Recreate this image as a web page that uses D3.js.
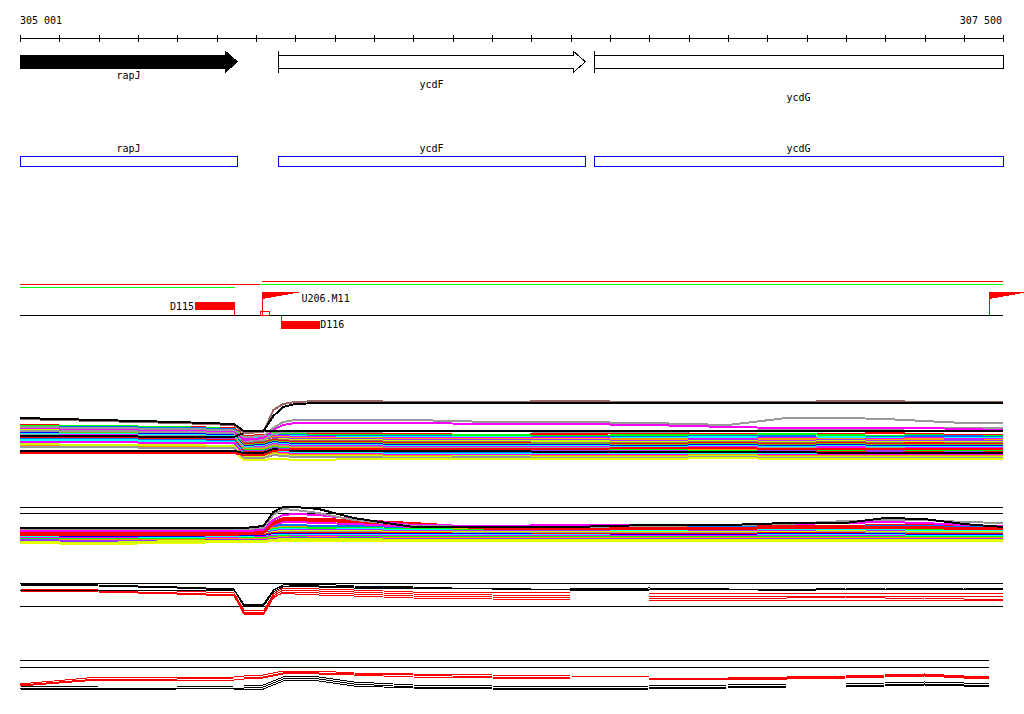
<!DOCTYPE html>
<html><head><meta charset="utf-8">
<script src="https://cdn.jsdelivr.net/npm/d3@7"></script>
<style>
body{margin:0;background:#fff;}
svg{display:block;}
text{font-family:"DejaVu Sans Mono",monospace;font-size:10px;fill:#000;}
</style></head><body>
<svg id="chart" width="1024" height="714"></svg>
<script>
// ---------- data ----------
const axisStart = 305001, axisEnd = 307500, tickStep = 100;
const rulerLabels = ["305 001", "307 500"];

const genes = ["rapJ", "ycdF", "ycdG"];
const geneStart = [305001, 305657, 306460];
const geneEnd = [305553, 306437, 307500];
const geneShape = ["arrow", "arrow", "box"];
const geneFilled = [true, false, false];
const geneStartBar = [false, true, true];

const tuStart = [305001, 305001, 305616, 305611];
const tuEnd = [305611, 305547, 307500, 307500];
const tuColor = ["#ff0000", "#00ff00", "#ff0000", "#00ff00"];

const probeNames = ["D115", "D116"];
const probeStart = [305446, 305665];
const probeEnd = [305548, 305764];
const probeStrand = ["+", "-"];
const flagNames = ["U206.M11", ""];
const flagPos = [305616, 307465];

// sample positions (bp)
const P = [305001,305200,305400,305545,305570,305620,305645,305670,305700,305760,305850,306000,306200,306400,306600,306800,306950,307100,307200,307300,307400,307500];
const P4 = [305001,305200,305400,305545,305570,305620,305645,305670,305700,305760,305850,306000,306200,306400,306600,306800,306950,307100,307200,307300,307400,307465];

// panel 1
const b1 = [40,39,38,37,29,30,33,32,31,31,31,31,30,31,32,31,30,31,32,31,30,30];
const b2 = [39,39,38,36,28,29,32,31,31,30,30,30,30,29,30,30,31,30,29,30,29,29];
const b3 = [38,38,37,36,27,28,31,30,30,29,29,29,28,28,28,29,29,28,28,29,29,28];
const b4 = [38,37,36,35,26,27,30,29,29,28,28,28,28,27,27,28,27,28,27,27,27,27];
const b5 = [37,36,36,34,26,26,29,29,28,28,27,27,27,27,26,26,27,26,26,27,26,26];
const b6 = [36,36,35,34,25,25,28,28,27,27,27,26,26,26,26,25,26,26,25,26,25,25];
const b7 = [35,35,34,33,24,24,27,27,26,26,26,25,25,25,24,25,24,25,24,24,25,24];
const b8 = [35,34,33,32,23,24,26,26,25,25,25,24,24,24,23,24,23,24,23,23,23,23];
const b9 = [34,33,33,32,22,23,26,25,24,24,24,23,23,22,22,23,22,23,22,22,22,22];
const b10 = [33,33,32,31,21,22,25,24,23,23,23,22,22,21,21,22,21,22,21,22,21,21];
const b11 = [33,32,31,30,20,21,24,23,22,22,22,21,21,21,20,21,20,21,20,20,20,20];
const b12 = [32,31,31,30,19,20,23,22,21,21,21,20,20,20,19,20,19,20,19,19,19,19];
const b13 = [31,31,30,29,18,19,22,21,20,20,20,19,19,19,18,19,18,19,18,18,18,18];
const b14 = [30,30,29,28,17,18,21,20,19,19,19,18,18,18,17,18,17,18,17,17,17,17];
const b15 = [30,29,29,28,17,17,20,19,18,18,18,17,17,17,17,16,17,16,17,16,16,16];
const b16 = [29,29,28,27,16,16,19,18,17,17,17,16,16,16,16,15,16,15,16,15,15,15];
const b17 = [28,28,27,26,15,15,18,17,16,16,16,15,15,15,15,14,15,14,15,14,14,14];
const b18 = [28,27,27,26,14,14,17,16,15,15,15,14,14,14,14,13,14,13,14,13,13,13];
const b19 = [27,27,26,25,13,13,16,15,14,14,14,13,13,13,13,13,12,13,12,13,12,13];
const b20 = [26,26,25,24,12,12,15,14,13,13,13,12,12,12,12,12,12,12,12,12,12,12];
const b21 = [25,25,24,23,11,11,14,13,12,12,12,11,11,11,11,11,11,11,11,11,11,11];
const b22 = [23,23,22,22,10,10,13,12,11,11,11,10,10,10,10,10,10,10,10,10,10,10];
const b23 = [20,19,19,18,9,9,12,11,10,10,10,9,9,9,9,10,9,9,9,9,9,9];
const b24 = [21,20,20,19,8,8,11,10,9,9,9,8,9,8,8,9,8,8,8,8,8,8];
const b25 = [18,18,17,17,7,7,10,9,8,8,8,7,8,7,7,8,7,7,7,7,7,7];
const b26 = [14,14,13,13,5,5,6,6,5,5,6,6,6,6,6,7,6,6,6,6,6,6];
const b27 = [14,14,14,14,12,12,16,15,14,14,14,14,14,13,13,13,13,12,12,12,12,12];
const b28 = [12,12,12,12,10,10,14,15,16,16,16,16,16,16,17,17,16,16,16,16,16,16];
const p1Gray2 = [34,34,33,32,24,25,31,33,33,33,33,34,34,33,33,34,35,35,36,37,37,37];
const p1Magenta = [37,36,35,34,25,27,35,40,42,42,42,42,41,41,40,38,37,37,37,37,36,35];
const p1Gray1 = [38,37,36,35,28,29,37,43,45,45,45,45,43,43,42,40,47,47,46,44,42,42];
const p1Black2 = [29,29,28,28,32,34,34,34,34,34,34,34,34,34,34,34,34,34,34,34,34,34];
const p1Brown = [46,44,42,40,32,33,55,61,63,64,64,63,63,64,63,63,63,64,64,63,63,63];
const p1BlackTop = [47,45,43,41,34,34,49,58,61,62,62,62,62,62,62,62,62,62,62,62,62,62];

// panel 2
const c1 = [21,21,20,21,21,22,27,30,30,29,28,24,23,23,23,24,24,24,25,25,24,23];
const c2 = [20,20,20,20,20,21,24,25,25,24,24,23,22,22,22,23,23,23,24,24,23,22];
const c3 = [19,19,19,19,19,20,25,28,28,27,26,23,22,22,21,22,22,23,23,22,21,21];
const c4 = [19,18,18,19,19,19,22,23,23,22,22,21,21,21,21,22,22,22,22,22,21,21];
const c5 = [18,18,17,18,18,19,21,22,22,22,22,21,20,20,20,21,21,21,21,20,20,20];
const c6 = [17,17,17,17,17,18,20,21,21,20,21,20,19,20,19,20,20,20,20,19,19,19];
const c7 = [16,16,16,16,17,17,19,20,20,20,20,19,19,19,18,19,19,19,19,18,18,18];
const c8 = [15,15,15,16,16,16,18,19,19,19,19,18,18,18,18,18,18,19,18,18,18,18];
const c9 = [15,14,14,15,15,16,17,18,18,18,18,17,17,17,17,17,17,18,17,17,17,17];
const c10 = [14,14,14,14,14,15,17,17,17,17,17,17,16,16,16,16,17,17,16,16,16,16];
const c11 = [13,13,13,13,14,14,16,16,16,16,16,16,16,15,15,15,16,16,16,15,15,15];
const c12 = [13,12,12,13,13,13,15,15,15,15,15,15,15,15,14,14,15,15,15,14,14,14];
const c13 = [12,12,11,12,12,13,14,14,14,14,14,14,14,14,14,14,14,14,14,13,13,13];
const c14 = [11,11,11,11,12,12,13,14,13,13,13,13,13,13,13,13,13,13,13,13,13,13];
const c15 = [10,10,10,11,11,11,12,13,12,13,12,12,12,12,12,12,12,12,12,12,12,12];
const c16 = [10,9,9,10,10,10,11,12,12,12,12,11,11,11,11,11,11,11,11,11,11,11];
const c17 = [8,7,9,9,9,9,10,11,11,11,11,10,10,10,10,10,10,10,10,10,10,10];
const c18 = [7,6,7,8,8,8,9,9,9,9,9,9,9,9,9,9,9,9,9,9,9,9];
const p2Red1 = [17,17,17,17,17,19,28,32,32,31,30,27,22,22,22,22,23,23,23,23,22,22];
const p2Red2 = [16,16,16,16,16,17,26,30,30,29,29,26,21,21,21,21,22,22,22,22,21,21];
const p2Magenta = [19,19,19,19,19,20,30,35,36,35,31,25,24,25,25,25,26,27,28,27,25,24];
const p2Gray = [21,21,21,21,21,22,35,41,40,37,30,24,23,23,24,25,26,29,30,30,28,27];
const p2Black = [22,22,22,22,22,24,38,43,43,41,32,23,23,23,25,25,27,27,32,31,26,23];
const p2Guides = [43, 37];

// panel 3
const r3A = [31,30,29,27,10,9,26,32,32,31,30,28,28,27,27,27,27,27,27,27,27,27];
const r3B = [30,29,27,25,8,7,24,30,30,29,28,26,25,24,24,24,24,24,24,24,24,24];
const r3C = [30,28,26,25,6,5,22,28,28,27,26,24,23,22,22,22,22,23,22,22,21,21];
const r3D = [29,28,26,24,7,6,23,27,26,25,24,22,21,20,20,20,20,20,20,20,20,20];
const k3A = [36,35,33,31,15,15,30,35,36,36,34,33,31,31,32,31,29,31,31,31,32,32];
const k3B = [35,34,32,30,14,14,28,33,35,34,33,32,32,30,30,31,30,32,32,31,31,31];
const k3C = [30,30,30,30,16,16,30,34,34,33,32,32,31,31,31,31,31,31,31,31,31,31];
const p3Guides = [37, 14];

// panel 4
const q4A = [11,18,18,18,19,20,22,24,24,24,22,21,20,19,18,18,18,19,20,21,19,18];
const q4B = [10,16,16,17,17,18,20,22,23,22,21,20,18,17,17,17,17,18,19,20,18,17];
const q4C = [9,15,15,15,16,17,19,21,22,21,20,18,17,16,16,16,16,17,18,19,17,16];
const k4A = [9,8,8,9,9,10,14,18,19,18,13,10,9,8,9,10,11,11,12,13,12,12];
const k4B = [7,7,7,7,7,8,12,16,17,16,11,8,7,6,7,8,9,9,10,11,10,10];
const k4C = [6,5,6,6,6,6,10,14,15,14,9,7,6,5,6,7,8,8,9,10,9,9];
const p4Guides = [35, 28];

// series colours
const R="#ff0000", L="#00ff00", B="#0070ff", C="#00ffff", M="#ff00ff", O="#ff9900", PU="#9933ff",
      YG="#ccff00", BR="#996666", G="#66cc00", BL="#0000ff", GR="#999999", Y="#e5ff00", K="#000000";
const panel1Series = [b1,b2,b3,b4,b5,b6,b7,b8,b9,b10,b11,b12,b13,b14,b15,b16,b17,b18,b19,b20,b21,b22,b23,b24,b25,b26,b27,b28,p1Gray2,p1Magenta,p1Gray1,p1Black2,p1Brown,p1BlackTop];
const panel1Colors = [R,L,B,C,M,O,PU,YG,BR,R,G,BL,C,M,GR,O,L,PU,R,B,C,M,O,YG,GR,Y,K,R,GR,M,GR,K,BR,K];
const panel2Series = [c1,c2,c3,c4,c5,c6,c7,c8,c9,c10,c11,c12,c13,c14,c15,c16,c17,c18,p2Red1,p2Red2,p2Magenta,p2Gray,p2Black];
const panel2Colors = [R,B,M,O,L,C,PU,YG,GR,R,BL,C,M,L,O,PU,YG,Y,R,R,M,GR,K];
const panel3Series = [r3A,r3B,r3C,r3D,k3A,k3B,k3C];
const panel3Colors = [R,R,R,R,K,K,K];
const panel4Series = [q4A,q4B,q4C,k4A,k4B,k4C];
const panel4Colors = [R,R,R,K,K,K];

// ---------- drawing ----------
const svg = d3.select("#chart");
const g = svg.append("g").attr("shape-rendering", "crispEdges");
const x = d3.scaleLinear().domain([axisStart, axisEnd]).range([20, 1003]);

// ruler
g.append("line").attr("x1", x(axisStart)).attr("x2", x(axisEnd)).attr("y1", 38.5).attr("y2", 38.5).attr("stroke", "#000");
const tickVals = d3.range(axisStart, axisEnd, tickStep).concat([axisEnd]);
g.selectAll(".tk").data(tickVals).enter().append("line")
  .attr("x1", d => Math.round(x(d)) + 0.5).attr("x2", d => Math.round(x(d)) + 0.5)
  .attr("y1", 35).attr("y2", 42).attr("stroke", "#000");
svg.append("text").attr("x", 20).attr("y", 24).text(rulerLabels[0]);
svg.append("text").attr("x", 1002).attr("y", 24).attr("text-anchor", "end").text(rulerLabels[1]);

// genes
const geneLabelY = [79, 88, 101];
genes.forEach((name, i) => {
  const x0 = Math.round(x(geneStart[i])) + 0.5, x1 = Math.round(x(geneEnd[i])) + 0.5;
  const top = 55.5, bot = 68.5, htop = 51, hbot = 72.5, mid = 61.75, head = 12.5;
  if (geneShape[i] === "arrow") {
    const hx = x1 - head;
    const pts = [[x0, top], [hx, top], [hx, htop], [x1, mid], [hx, hbot], [hx, bot], [x0, bot]];
    g.append("polygon").attr("points", pts.map(p => p.join(",")).join(" "))
      .attr("fill", geneFilled[i] ? "#000" : "#fff").attr("stroke", "#000");
  } else {
    g.append("rect").attr("x", x0).attr("y", top).attr("width", x1 - x0).attr("height", bot - top)
      .attr("fill", "#fff").attr("stroke", "#000");
  }
  if (geneStartBar[i]) {
    g.append("line").attr("x1", x0).attr("x2", x0).attr("y1", htop).attr("y2", hbot).attr("stroke", "#000");
  }
  const cx = (x(geneStart[i]) + x(geneEnd[i])) / 2;
  svg.append("text").attr("x", cx).attr("y", geneLabelY[i]).attr("text-anchor", "middle").text(name);
  // blue feature boxes
  g.append("rect").attr("x", x0).attr("y", 156.5).attr("width", x1 - x0).attr("height", 10)
    .attr("fill", "none").attr("stroke", "#0000ff");
  svg.append("text").attr("x", cx).attr("y", 152).attr("text-anchor", "middle").text(name);
});

// transcription units
const tuY = [284.5, 287.5, 281.5, 284.5];
tuStart.forEach((s, i) => {
  g.append("line").attr("x1", x(s)).attr("x2", x(tuEnd[i])).attr("y1", tuY[i]).attr("y2", tuY[i]).attr("stroke", tuColor[i]);
});

// probe baseline
g.append("line").attr("x1", x(axisStart)).attr("x2", x(axisEnd)).attr("y1", 315.5).attr("y2", 315.5).attr("stroke", "#000");
probeNames.forEach((n, i) => {
  const x0 = x(probeStart[i]), x1 = x(probeEnd[i]);
  if (probeStrand[i] === "+") {
    g.append("rect").attr("x", x0).attr("y", 302).attr("width", x1 - x0).attr("height", 8).attr("fill", "#ff0000");
    g.append("line").attr("x1", Math.round(x1) - 0.5).attr("x2", Math.round(x1) - 0.5).attr("y1", 302).attr("y2", 315).attr("stroke", "#ff0000");
    svg.append("text").attr("x", x0 - 1).attr("y", 309.5).attr("text-anchor", "end").text(n);
  } else {
    g.append("rect").attr("x", x0).attr("y", 321).attr("width", x1 - x0).attr("height", 8).attr("fill", "#ff0000");
    g.append("line").attr("x1", Math.round(x0) + 0.5).attr("x2", Math.round(x0) + 0.5).attr("y1", 316).attr("y2", 321).attr("stroke", "#ff0000");
    svg.append("text").attr("x", x1).attr("y", 327.5).text(n);
  }
});
flagPos.forEach((p, i) => {
  const fx = Math.round(x(p)) + 0.5;
  g.append("line").attr("x1", fx).attr("x2", fx).attr("y1", 292).attr("y2", 315).attr("stroke", "#ff0000");
  g.append("polygon").attr("points", `${fx},292 ${fx + 39},292 ${fx},299`).attr("fill", "#ff0000");
  if (flagNames[i]) svg.append("text").attr("x", fx + 39).attr("y", 301.5).text(flagNames[i]);
});
g.append("rect").attr("x", Math.round(x(flagPos[0])) - 1.5).attr("y", 311.5).attr("width", 9).attr("height", 4)
  .attr("fill", "none").attr("stroke", "#ff0000");

// expression panels
function drawPanel(pos, series, colors, y, width, guides, guideEnd) {
  const line = d3.line().x((d, i) => x(pos[i])).y(d => y(d));
  (guides || []).forEach(gv => {
    g.append("line").attr("x1", x(pos[0])).attr("x2", x(guideEnd)).attr("y1", Math.round(y(gv)) + 0.5).attr("y2", Math.round(y(gv)) + 0.5).attr("stroke", "#000");
  });
  series.forEach((s, i) => {
    g.append("path").attr("d", line(s)).attr("fill", "none").attr("stroke", colors[i]).attr("stroke-width", width);
  });
}
const y1 = d3.scaleLinear().domain([0, 80]).range([465, 385]);
const y2 = d3.scaleLinear().domain([0, 50]).range([550, 500]);
const y3 = d3.scaleLinear().domain([0, 40]).range([620, 580]);
const y4 = d3.scaleLinear().domain([0, 40]).range([695, 655]);
drawPanel(P, panel1Series, panel1Colors, y1, 2, [], axisEnd);
drawPanel(P, panel2Series, panel2Colors, y2, 2, p2Guides, axisEnd);
drawPanel(P, panel3Series, panel3Colors, y3, 1, p3Guides, axisEnd);
drawPanel(P4, panel4Series, panel4Colors, y4, 1, p4Guides, P4[P4.length - 1]);
</script></body></html>
